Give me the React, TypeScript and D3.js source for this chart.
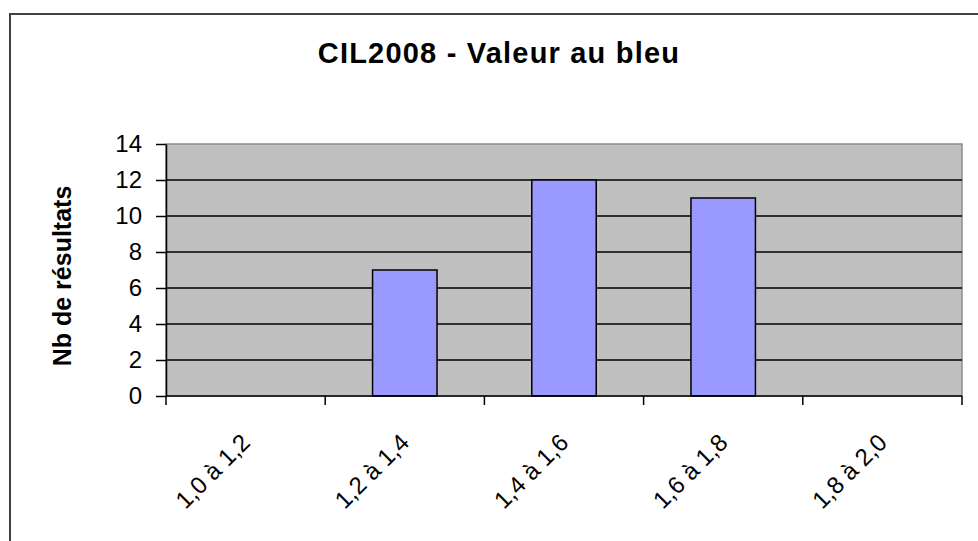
import * as d3 from 'd3';
import React, { useEffect, useRef } from 'react';

const categories = ['1,0 à 1,2', '1,2 à 1,4', '1,4 à 1,6', '1,6 à 1,8', '1,8 à 2,0'];
const counts = [0, 7, 12, 11, 0];
const yTicks = [0, 2, 4, 6, 8, 10, 12, 14];
const title = 'CIL2008 - Valeur au bleu';
const yTitle = 'Nb de résultats';

export default function App() {
    const ref = useRef<SVGSVGElement>(null);

    useEffect(() => {
        const svg = d3.select(ref.current);
        svg.selectAll('*').remove();

        const plot = { left: 166, right: 962, top: 144, bottom: 396 };
        const font = 'Arial, "Liberation Sans", sans-serif';

        const x = d3.scaleBand<string>()
            .domain(categories)
            .range([plot.left, plot.right])
            .padding(0);

        const y = d3.scaleLinear()
            .domain([0, 14])
            .range([plot.bottom, plot.top]);

        // outer chart frame (runs off right/bottom edge)
        svg.append('rect')
            .attr('x', 10)
            .attr('y', 14)
            .attr('width', 1100)
            .attr('height', 700)
            .style('fill', '#fff')
            .style('stroke', '#404040')
            .style('stroke-width', 2);

        svg.append('text')
            .attr('x', 499)
            .attr('y', 63)
            .attr('text-anchor', 'middle')
            .style('font-family', font)
            .style('font-weight', 'bold')
            .style('font-size', '29px')
            .style('letter-spacing', '1.2px')
            .text(title);

        // plot area
        svg.append('rect')
            .attr('x', plot.left)
            .attr('y', plot.top)
            .attr('width', plot.right - plot.left)
            .attr('height', plot.bottom - plot.top)
            .style('fill', '#c0c0c0')
            .style('stroke', '#8c8c8c')
            .style('stroke-width', 1.5);

        svg.append('g')
            .selectAll('line')
            .data(yTicks.filter(d => d > 0 && d < 14))
            .enter()
            .append('line')
            .attr('x1', plot.left)
            .attr('x2', plot.right)
            .attr('y1', d => y(d))
            .attr('y2', d => y(d))
            .style('stroke', '#000')
            .style('stroke-width', 1.5);

        const barW = x.bandwidth() * 0.405;
        svg.append('g')
            .selectAll('rect')
            .data(categories.map((c, i) => ({ c, v: counts[i] })).filter(d => d.v > 0))
            .enter()
            .append('rect')
            .attr('x', d => (x(d.c) as number) + x.bandwidth() / 2 - barW / 2)
            .attr('y', d => y(d.v))
            .attr('width', barW)
            .attr('height', d => y(0) - y(d.v))
            .style('fill', '#9999ff')
            .style('stroke', '#000')
            .style('stroke-width', 1.5);

        // y axis
        const yAxis = svg.append('g')
            .attr('transform', `translate(${plot.left}, 0)`)
            .call(d3.axisLeft(y).tickValues(yTicks).tickSize(10).tickPadding(14).tickSizeOuter(0));
        yAxis.select('.domain').style('stroke', '#000').style('stroke-width', 1.5);
        yAxis.selectAll('line').style('stroke', '#000').style('stroke-width', 1.5);
        yAxis.selectAll('text')
            .style('font-family', font)
            .style('font-size', '24px')
            .style('fill', '#000');

        // x axis: ticks on category boundaries
        const xa = svg.append('g');
        xa.append('line')
            .attr('x1', plot.left)
            .attr('x2', plot.right)
            .attr('y1', plot.bottom)
            .attr('y2', plot.bottom)
            .style('stroke', '#000')
            .style('stroke-width', 1.5);
        const bounds = categories.map(c => x(c) as number).concat([plot.right]);
        xa.selectAll('line.tick')
            .data(bounds)
            .enter()
            .append('line')
            .attr('class', 'tick')
            .attr('x1', d => d)
            .attr('x2', d => d)
            .attr('y1', plot.bottom)
            .attr('y2', plot.bottom + 9)
            .style('stroke', '#000')
            .style('stroke-width', 1.5);
        xa.selectAll('text')
            .data(categories)
            .enter()
            .append('text')
            .attr('transform', d => `translate(${(x(d) as number) + x.bandwidth() / 2}, 438) rotate(-45)`)
            .attr('text-anchor', 'end')
            .attr('dy', '0.35em')
            .style('font-family', font)
            .style('font-size', '24px')
            .text(d => d);

        svg.append('text')
            .attr('transform', 'translate(71, 276) rotate(-90)')
            .attr('text-anchor', 'middle')
            .style('font-family', font)
            .style('font-weight', 'bold')
            .style('font-size', '25px')
            .text(yTitle);
    }, []);

    return (
        <svg ref={ref} width={978} height={541} style={{ position: 'absolute', left: 0, top: 0 }} />
    );
}
